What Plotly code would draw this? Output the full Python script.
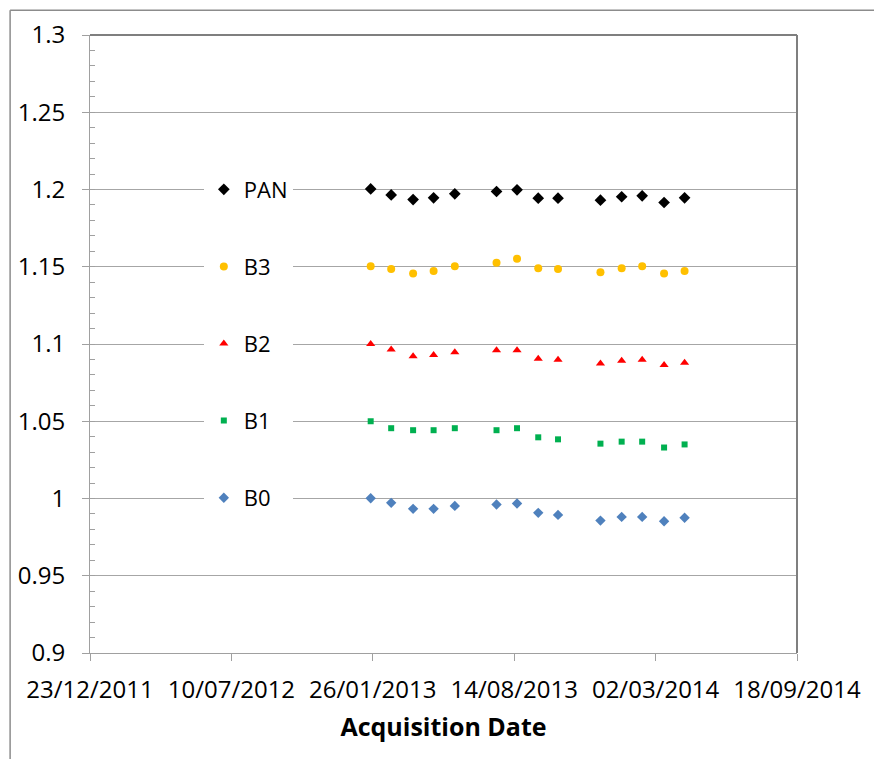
import plotly.graph_objects as go

# Acquisition dates of the scenes
dates = [
    "2013-01-23", "2013-02-21", "2013-03-24", "2013-04-22", "2013-05-22",
    "2013-07-20", "2013-08-18", "2013-09-17", "2013-10-15", "2013-12-14",
    "2014-01-13", "2014-02-11", "2014-03-14", "2014-04-12",
]

# Normalised values per band
pan = [1.2004, 1.1965, 1.1935, 1.1946, 1.1972, 1.1987, 1.1998, 1.1944, 1.1944,
       1.1931, 1.1953, 1.1959, 1.1916, 1.1946]
b3 = [1.1504, 1.1485, 1.1457, 1.1472, 1.1504, 1.1526, 1.1552, 1.1491, 1.1485,
      1.1465, 1.1491, 1.1504, 1.1457, 1.1472]
b2 = [1.1000, 1.0965, 1.0920, 1.0929, 1.0946, 1.0959, 1.0959, 1.0905, 1.0898,
      1.0873, 1.0892, 1.0898, 1.0864, 1.0879]
b1 = [1.0500, 1.0455, 1.0442, 1.0442, 1.0455, 1.0442, 1.0455, 1.0396, 1.0383,
      1.0355, 1.0368, 1.0368, 1.0330, 1.0350]
b0 = [1.0002, 0.9972, 0.9933, 0.9933, 0.9952, 0.9961, 0.9968, 0.9907, 0.9894,
      0.9857, 0.9881, 0.9881, 0.9853, 0.9875]

series_names = ["PAN", "B3", "B2", "B1", "B0"]
series_values = [pan, b3, b2, b1, b0]

# Axis ticks
x_tick_dates = ["2011-12-23", "2012-07-10", "2013-01-26", "2013-08-14",
                "2014-03-02", "2014-09-18"]
x_tick_labels = ["23/12/2011", "10/07/2012", "26/01/2013", "14/08/2013",
                 "02/03/2014", "18/09/2014"]
y_tick_vals = [0.9, 0.95, 1.0, 1.05, 1.1, 1.15, 1.2, 1.25, 1.3]
y_tick_labels = ["0.9", "0.95", "1", "1.05", "1.1", "1.15", "1.2", "1.25", "1.3"]

styles = {
    "PAN": dict(symbol="diamond", color="#000000", size=9),
    "B3": dict(symbol="circle", color="#FFC000", size=8),
    "B2": dict(symbol="triangle-up", color="#FF0000", size=8),
    "B1": dict(symbol="square", color="#00B050", size=6),
    "B0": dict(symbol="diamond", color="#4F81BD", size=8),
}

FONT = "Open Sans"

fig = go.Figure()
for name, vals in zip(series_names, series_values):
    st = styles[name]
    fig.add_trace(go.Scatter(
        x=dates, y=vals, mode="markers", name=name, legendgroup=name,
        marker=dict(symbol=st["symbol"], color=st["color"], size=st["size"],
                    line=dict(width=0)),
    ))

fig.update_layout(
    width=874, height=759,
    margin=dict(l=90, r=77, t=35, b=106),
    paper_bgcolor="white", plot_bgcolor="white",
    font=dict(family=FONT, size=24, color="#000000"),
    showlegend=True,
    legend=dict(
        x=0.161, xanchor="left", y=0.784, yanchor="top",
        bgcolor="white", borderwidth=0,
        traceorder="grouped", tracegroupgap=45.5,
        font=dict(family=FONT, size=22, color="#000000"),
    ),
    xaxis=dict(
        type="date",
        range=[x_tick_dates[0], x_tick_dates[-1]],
        tickmode="array", tickvals=x_tick_dates, ticktext=x_tick_labels,
        ticks="outside", ticklen=7, tickcolor="#A0A0A0", tickwidth=1,
        showline=True, linecolor="#A0A0A0", linewidth=1,
        showgrid=False, zeroline=False,
        ticklabelstandoff=8,
        title=dict(text="<b>Acquisition Date</b>", font=dict(family=FONT, size=25),
                   standoff=14),
    ),
    yaxis=dict(
        range=[0.9, 1.3],
        tickmode="array", tickvals=y_tick_vals, ticktext=y_tick_labels,
        ticks="outside", ticklen=7, tickcolor="#A0A0A0", tickwidth=1,
        showline=True, linecolor="#A0A0A0", linewidth=1,
        showgrid=True, gridcolor="#A6A6A6", gridwidth=1,
        zeroline=False,
        ticklabelstandoff=12,
        minor=dict(dtick=0.01, ticks="inside", ticklen=5, tickcolor="#A0A0A0",
                   showgrid=False),
    ),
)

# Plot-area frame on the top and right sides
fig.add_shape(type="line", xref="paper", yref="paper", x0=0, x1=1, y0=1, y1=1,
              line=dict(color="#7F7F7F", width=2))
fig.add_shape(type="line", xref="paper", yref="paper", x0=1, x1=1, y0=0, y1=1,
              line=dict(color="#7F7F7F", width=2))
# Outer chart-area border (left and top edges)
fig.add_shape(type="line", xref="paper", yref="paper",
              x0=-0.113, x1=-0.113, y0=-0.2, y1=1.04,
              line=dict(color="#8C8C8C", width=1.5), layer="below")
fig.add_shape(type="line", xref="paper", yref="paper",
              x0=-0.113, x1=1.2, y0=1.04, y1=1.04,
              line=dict(color="#8C8C8C", width=1.5), layer="below")

fig.write_html("out.html")
